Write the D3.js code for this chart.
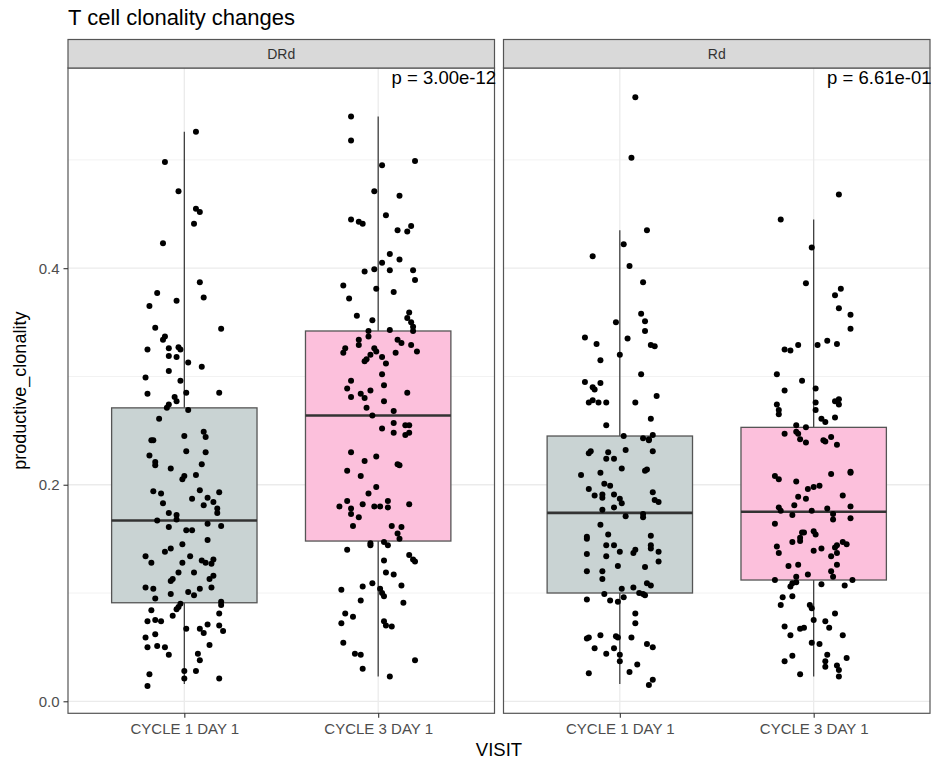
<!DOCTYPE html>
<html>
<head>
<meta charset="utf-8">
<script src="https://cdn.jsdelivr.net/npm/d3@7"></script>
<style>
  body { margin: 0; background: #fff; }
  text { font-family: "Liberation Sans", Arial, Helvetica, sans-serif; }
</style>
</head>
<body>
<script>
// ---------------- DATA ----------------
const facets = ["DRd", "Rd"];
const visits = ["CYCLE 1 DAY 1", "CYCLE 3 DAY 1"];
const pLabels = ["p = 3.00e-12", "p = 6.61e-01"];
const yMajorTicks = [0.0, 0.2, 0.4];
const yMinorTicks = [0.1, 0.3, 0.5];
const boxFills = ["#c9d3d3", "#fcc0dc"];

// box stats: [lower whisker, Q1, median, Q3, upper whisker]
const drdC1Box = [0.016, 0.091, 0.167, 0.271, 0.526];
const drdC3Box = [0.023, 0.148, 0.264, 0.342, 0.540];
const rdC1Box  = [0.016, 0.100, 0.174, 0.245, 0.435];
const rdC3Box  = [0.023, 0.112, 0.175, 0.253, 0.445];

// jittered points: [horizontal jitter (category units), productive_clonality]
const drdC1Points = [[0.06,0.526],[-0.10,0.498],[-0.03,0.471],[0.06,0.455],[0.08,0.452],[0.05,0.441],[-0.11,0.423],[0.08,0.387],[-0.14,0.377],[-0.04,0.370],[0.10,0.373],[-0.18,0.365],[-0.15,0.345],[0.19,0.344],[-0.10,0.337],[-0.11,0.334],[-0.19,0.325],[-0.08,0.326],[-0.03,0.327],[-0.02,0.325],[-0.08,0.319],[-0.04,0.318],[0.02,0.313],[0.09,0.309],[-0.08,0.305],[-0.20,0.299],[-0.02,0.296],[-0.19,0.284],[0.01,0.285],[0.18,0.285],[-0.05,0.281],[-0.04,0.277],[-0.08,0.274],[-0.09,0.271],[0.02,0.269],[-0.13,0.261],
[0.00,0.245],[0.10,0.249],[0.11,0.244],[-0.17,0.241],[-0.16,0.241],[0.01,0.231],[0.11,0.230],[-0.18,0.227],[-0.15,0.221],[-0.15,0.218],[0.09,0.219],[-0.07,0.215],[0.06,0.209],[0.00,0.208],[-0.01,0.205],[-0.16,0.194],[-0.12,0.192],[0.08,0.195],[0.18,0.193],[0.04,0.187],[0.12,0.188],[-0.11,0.183],[0.10,0.181],[0.15,0.184],[0.17,0.178],[0.17,0.174],[-0.08,0.174],[-0.04,0.172],[-0.04,0.168],[-0.14,0.167],[0.12,0.164],[0.19,0.162],[-0.08,0.161],[0.01,0.158],[0.04,0.158],[0.12,0.149],[-0.01,0.145],[-0.07,0.141],[-0.10,0.138],[-0.20,0.134],[-0.17,0.128],[0.03,0.134],[0.09,0.130],[0.11,0.128],[0.14,0.127],[0.15,0.131],[-0.01,0.128],[-0.03,0.119],[0.05,0.119],[-0.06,0.113],[-0.07,0.111],[0.15,0.116],[0.13,0.113],[-0.20,0.105],[-0.16,0.104],[0.08,0.104],[0.14,0.105],[-0.07,0.099],[0.02,0.101],[0.05,0.098],[-0.15,0.095],[-0.02,0.090],[-0.03,0.087],[0.19,0.092],[0.19,0.089],[-0.17,0.084],[-0.04,0.085],[0.18,0.081],[-0.06,0.079],[-0.19,0.074],[-0.15,0.075],[-0.12,0.074],[0.12,0.071],[0.08,0.067],[0.10,0.063],[0.18,0.070],[0.20,0.065],[0.01,0.067],[-0.20,0.059],[-0.15,0.062],[-0.19,0.050],[-0.14,0.051],[-0.10,0.050],[-0.08,0.043],[0.07,0.044],[0.08,0.038],[0.13,0.052],[0.00,0.028],[0.06,0.028],[0.00,0.021],[0.18,0.021],[-0.18,0.025],[-0.19,0.014]];

const drdC3Points = [[-0.14,0.540],[-0.14,0.518],[0.19,0.499],[0.02,0.495],[-0.02,0.471],[0.11,0.467],[0.04,0.449],[-0.14,0.445],[-0.10,0.443],[-0.08,0.441],[0.10,0.435],[0.15,0.434],[0.17,0.439],[0.06,0.413],[0.11,0.408],[0.02,0.405],[-0.02,0.399],[0.06,0.398],[-0.07,0.397],[0.18,0.398],[0.19,0.389],[-0.18,0.384],[-0.01,0.381],[0.08,0.378],[-0.15,0.372],[-0.11,0.356],[-0.03,0.352],[0.16,0.359],[0.15,0.354],[0.17,0.350],[0.18,0.346],[0.18,0.342],[0.06,0.343],[-0.05,0.342],[-0.05,0.337],[-0.10,0.334],[-0.10,0.329],[0.10,0.334],[0.12,0.331],[0.17,0.329],[-0.17,0.326],[-0.18,0.322],[-0.02,0.326],[-0.01,0.323],[0.09,0.322],[0.20,0.323],[-0.04,0.320],[-0.06,0.316],[-0.07,0.314],[0.02,0.318],[0.04,0.312],[0.02,0.302],[-0.14,0.296],[0.03,0.292],[-0.16,0.289],[-0.04,0.287],[-0.14,0.281],[-0.09,0.284],[-0.07,0.280],[0.15,0.285],[0.03,0.277],[-0.06,0.271],[0.08,0.268],[-0.03,0.264],
[0.08,0.257],[0.14,0.255],[0.16,0.255],[0.02,0.252],[0.08,0.248],[0.14,0.246],[0.16,0.248],[-0.14,0.230],[-0.01,0.226],[-0.07,0.222],[0.10,0.219],[0.11,0.218],[-0.16,0.213],[-0.09,0.208],[-0.01,0.198],[-0.05,0.192],[-0.16,0.185],[-0.20,0.180],[-0.14,0.178],[-0.14,0.173],[-0.10,0.170],[-0.08,0.182],[-0.02,0.180],[0.01,0.180],[0.05,0.185],[0.05,0.179],[0.16,0.182],[-0.13,0.162],[0.07,0.162],[0.12,0.161],[0.10,0.155],[0.11,0.150],[-0.04,0.146],[-0.04,0.144],[0.03,0.147],[0.05,0.144],[-0.16,0.140],[0.16,0.135],[0.18,0.131],[0.19,0.129],[0.03,0.130],[0.04,0.119],[0.08,0.117],[-0.03,0.109],[-0.08,0.106],[0.12,0.107],[0.01,0.104],[0.02,0.100],[0.03,0.097],[-0.19,0.103],[-0.09,0.093],[0.13,0.091],[-0.17,0.081],[-0.13,0.078],[-0.19,0.072],[0.03,0.074],[0.04,0.070],[0.07,0.069],[-0.18,0.054],[-0.12,0.044],[-0.09,0.043],[-0.08,0.030],[0.19,0.038],[0.06,0.023]];

const rdC1Points = [[0.08,0.558],[0.06,0.502],[0.14,0.435],[0.02,0.422],[-0.14,0.411],[0.05,0.402],[0.12,0.387],[0.11,0.358],[0.13,0.351],[-0.02,0.350],[0.13,0.342],[-0.18,0.336],[0.04,0.335],[-0.12,0.330],[0.16,0.329],[0.18,0.328],[-0.10,0.315],[0.00,0.320],[0.11,0.302],[-0.18,0.295],[-0.10,0.294],[-0.14,0.290],[-0.13,0.288],[0.19,0.282],[-0.16,0.276],[-0.14,0.278],[-0.11,0.276],[-0.07,0.276],[0.08,0.276],
[0.16,0.261],[-0.07,0.255],[0.02,0.245],[0.12,0.243],[0.15,0.242],[0.17,0.246],[0.15,0.241],[-0.16,0.229],[-0.15,0.231],[-0.06,0.230],[-0.07,0.224],[-0.03,0.224],[0.03,0.232],[0.17,0.231],[0.01,0.215],[0.13,0.213],[0.14,0.214],[-0.20,0.209],[-0.10,0.211],[-0.08,0.201],[-0.05,0.199],[-0.16,0.196],[-0.13,0.190],[-0.09,0.188],[-0.09,0.191],[-0.03,0.191],[0.00,0.187],[0.01,0.183],[0.17,0.193],[0.18,0.186],[0.20,0.184],[-0.09,0.177],[-0.03,0.179],[0.12,0.173],[0.12,0.170],[0.03,0.171],[-0.10,0.163],[-0.06,0.154],[-0.17,0.152],[-0.17,0.150],[0.16,0.153],[0.16,0.144],[-0.07,0.144],[-0.03,0.144],[-0.17,0.136],[-0.07,0.134],[0.00,0.138],[0.08,0.140],[0.07,0.137],[0.16,0.141],[0.20,0.138],[0.20,0.129],[-0.01,0.125],[0.13,0.124],[-0.17,0.120],[-0.09,0.120],[-0.09,0.113],[0.14,0.109],[0.16,0.107],[0.01,0.104],[0.07,0.105],[0.10,0.100],[0.12,0.099],[0.13,0.098],[-0.08,0.099],[-0.05,0.093],[-0.01,0.092],[0.02,0.096],[-0.17,0.094],[0.08,0.081],[0.08,0.072],[-0.10,0.061],[-0.17,0.058],[-0.16,0.059],[-0.02,0.060],[-0.01,0.059],[0.06,0.059],[0.14,0.053],[0.17,0.050],[-0.13,0.049],[-0.03,0.049],[-0.07,0.044],[0.00,0.043],[0.00,0.037],[0.09,0.034],[0.05,0.027],[-0.16,0.026],[0.17,0.020],[0.15,0.015]];

const rdC3Points = [[0.13,0.468],[-0.17,0.445],[-0.01,0.419],[-0.04,0.386],[0.14,0.381],[0.11,0.375],[0.13,0.363],[0.19,0.357],[0.19,0.344],[0.07,0.333],[0.12,0.330],[-0.15,0.325],[-0.12,0.324],[-0.08,0.329],[0.02,0.329],[-0.19,0.302],[-0.06,0.296],[-0.15,0.287],[0.01,0.289],[-0.19,0.274],[0.01,0.276],[0.11,0.277],[0.13,0.279],[0.13,0.274],
[-0.18,0.269],[-0.18,0.265],[0.01,0.269],[0.04,0.261],[0.06,0.258],[0.11,0.262],[-0.09,0.255],[-0.04,0.253],[-0.09,0.249],[-0.15,0.247],[-0.08,0.247],[-0.07,0.242],[-0.04,0.239],[0.05,0.241],[0.06,0.240],[0.09,0.244],[0.12,0.237],[-0.20,0.208],[-0.18,0.205],[-0.09,0.203],[-0.03,0.196],[0.00,0.198],[0.03,0.199],[0.15,0.190],[-0.08,0.189],[-0.04,0.187],[0.09,0.210],[0.19,0.211],[0.19,0.212],[-0.10,0.181],[-0.18,0.179],[-0.17,0.176],[-0.11,0.172],[-0.01,0.176],[0.07,0.178],[0.10,0.173],[0.10,0.168],[0.19,0.180],[0.19,0.169],[-0.20,0.164],[-0.06,0.156],[-0.05,0.156],[0.00,0.157],[0.01,0.154],[-0.07,0.151],[-0.07,0.148],[-0.11,0.147],[-0.19,0.143],[-0.18,0.137],[0.00,0.139],[0.04,0.141],[0.11,0.142],[0.12,0.144],[0.15,0.147],[0.17,0.145],[0.09,0.134],[0.12,0.137],[-0.13,0.125],[-0.08,0.126],[0.12,0.126],[0.09,0.120],[0.10,0.115],[-0.09,0.115],[-0.03,0.117],[-0.20,0.112],[-0.11,0.109],[-0.09,0.110],[-0.12,0.106],[0.04,0.108],[0.16,0.107],[0.20,0.112],[-0.16,0.096],[-0.11,0.097],[-0.17,0.089],[-0.02,0.089],[-0.01,0.086],[0.11,0.081],[0.00,0.075],[0.06,0.074],[0.08,0.068],[-0.15,0.069],[-0.07,0.067],[-0.05,0.068],[0.15,0.061],[-0.12,0.061],[-0.01,0.054],[0.03,0.053],[0.07,0.043],[0.17,0.040],[-0.11,0.042],[-0.15,0.037],[0.06,0.037],[0.06,0.032],[0.12,0.033],[0.13,0.029],[0.13,0.023],[-0.07,0.025]];

const panelBoxes = [[drdC1Box, drdC3Box], [rdC1Box, rdC3Box]];
const panelPoints = [[drdC1Points, drdC3Points], [rdC1Points, rdC3Points]];

// ---------------- LAYOUT ----------------
const W = 931, H = 764;
const plotLeft = 68, plotRight = 930, plotTop = 68, plotBottom = 713.3;
const stripTop = 39.5, panelGap = 9;
const panelW = (plotRight - plotLeft - panelGap) / 2;

const svg = d3.select("body").append("svg")
  .attr("width", W).attr("height", H)
  .style("display", "block");

svg.append("rect").attr("width", W).attr("height", H).attr("fill", "#fff");

const y = d3.scaleLinear().domain([-0.0111, 0.5849]).range([plotBottom, plotTop]);

// title
svg.append("text")
  .attr("x", 68).attr("y", 25)
  .attr("font-size", 22).attr("fill", "#000")
  .text("T cell clonality changes");

facets.forEach((facet, i) => {
  const left = plotLeft + i * (panelW + panelGap);
  const right = left + panelW;
  const x = d3.scalePoint().domain(visits).range([left, right]).padding(0.6);
  const step = x.step();
  const g = svg.append("g");

  // panel background
  g.append("rect").attr("x", left).attr("y", plotTop)
    .attr("width", panelW).attr("height", plotBottom - plotTop).attr("fill", "#fff");

  // minor grid
  g.selectAll(".minor").data(yMinorTicks).join("line")
    .attr("x1", left).attr("x2", right)
    .attr("y1", d => y(d)).attr("y2", d => y(d))
    .attr("stroke", "#f2f2f2").attr("stroke-width", 1);
  // major grid
  g.selectAll(".major").data(yMajorTicks).join("line")
    .attr("x1", left).attr("x2", right)
    .attr("y1", d => y(d)).attr("y2", d => y(d))
    .attr("stroke", "#ebebeb").attr("stroke-width", 1.3);
  g.selectAll(".vgrid").data(visits).join("line")
    .attr("x1", d => x(d)).attr("x2", d => x(d))
    .attr("y1", plotTop).attr("y2", plotBottom)
    .attr("stroke", "#ebebeb").attr("stroke-width", 1.3);

  // boxplots
  visits.forEach((v, j) => {
    const s = panelBoxes[i][j];
    const cx = x(v), bw = step * 0.75;
    g.append("line").attr("x1", cx).attr("x2", cx)
      .attr("y1", y(s[0])).attr("y2", y(s[1]))
      .attr("stroke", "#333").attr("stroke-width", 1.2);
    g.append("line").attr("x1", cx).attr("x2", cx)
      .attr("y1", y(s[3])).attr("y2", y(s[4]))
      .attr("stroke", "#333").attr("stroke-width", 1.2);
    g.append("rect")
      .attr("x", cx - bw / 2).attr("y", y(s[3]))
      .attr("width", bw).attr("height", y(s[1]) - y(s[3]))
      .attr("fill", boxFills[j]).attr("stroke", "#555").attr("stroke-width", 1.3);
    g.append("line").attr("x1", cx - bw / 2).attr("x2", cx + bw / 2)
      .attr("y1", y(s[2])).attr("y2", y(s[2]))
      .attr("stroke", "#333").attr("stroke-width", 2.6);
  });

  // jittered points
  visits.forEach((v, j) => {
    g.selectAll(null).data(panelPoints[i][j]).join("circle")
      .attr("cx", d => x(v) + d[0] * step)
      .attr("cy", d => y(d[1]))
      .attr("r", 3)
      .attr("fill", "#000");
  });

  // panel border
  g.append("rect").attr("x", left).attr("y", plotTop)
    .attr("width", panelW).attr("height", plotBottom - plotTop)
    .attr("fill", "none").attr("stroke", "#555").attr("stroke-width", 1.2);

  // strip
  g.append("rect").attr("x", left).attr("y", stripTop)
    .attr("width", panelW).attr("height", plotTop - stripTop)
    .attr("fill", "#d9d9d9").attr("stroke", "#555").attr("stroke-width", 1.2);
  g.append("text")
    .attr("x", (left + right) / 2).attr("y", (stripTop + plotTop) / 2 + 0.5)
    .attr("text-anchor", "middle").attr("dominant-baseline", "central")
    .attr("font-size", 14).attr("fill", "#333")
    .text(facet);

  // p-value annotation
  g.append("text")
    .attr("x", right + 1.5).attr("y", 84)
    .attr("text-anchor", "end")
    .attr("font-size", 18.5).attr("fill", "#000")
    .text(pLabels[i]);

  // x axis
  const xAxis = g.append("g").attr("transform", `translate(0,${plotBottom})`)
    .call(d3.axisBottom(x).tickSize(4.5).tickPadding(6));
  xAxis.select(".domain").remove();
  xAxis.selectAll(".tick line").attr("stroke", "#333").attr("stroke-width", 1.1);
  xAxis.selectAll(".tick text").attr("font-size", 15).attr("fill", "#4d4d4d")
    .attr("font-family", '"Liberation Sans", Arial, sans-serif');

  // y axis (left panel only)
  if (i === 0) {
    const yAxis = g.append("g").attr("transform", `translate(${left},0)`)
      .call(d3.axisLeft(y).tickValues(yMajorTicks).tickFormat(d3.format(".1f")).tickSize(4.5).tickPadding(4));
    yAxis.select(".domain").remove();
    yAxis.selectAll(".tick line").attr("stroke", "#333").attr("stroke-width", 1.1);
    yAxis.selectAll(".tick text").attr("font-size", 15).attr("fill", "#4d4d4d")
      .attr("font-family", '"Liberation Sans", Arial, sans-serif');
  }
});

// axis titles
svg.append("text")
  .attr("x", (plotLeft + plotRight) / 2).attr("y", 756)
  .attr("text-anchor", "middle").attr("font-size", 18.5).attr("fill", "#000")
  .text("VISIT");
svg.append("text")
  .attr("transform", `translate(26,${(plotTop + plotBottom) / 2}) rotate(-90)`)
  .attr("text-anchor", "middle").attr("font-size", 18).attr("fill", "#000")
  .text("productive_clonality");
</script>
</body>
</html>
